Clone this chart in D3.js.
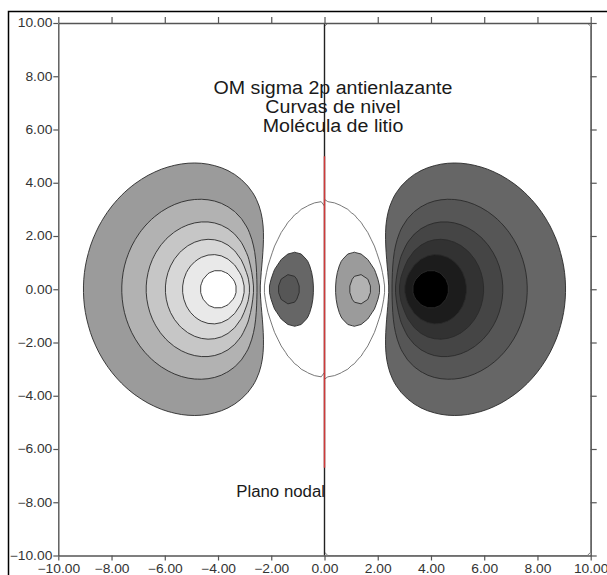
<!DOCTYPE html>
<html>
<head>
<meta charset="utf-8">
<script src="https://cdn.jsdelivr.net/npm/d3@7"></script>
<style>
  html, body { margin: 0; padding: 0; background: #fff; overflow: hidden; }
  text { font-family: "Liberation Sans", Arial, sans-serif; }
</style>
</head>
<body>
<svg id="chart" width="607" height="575"></svg>
<script>
// ---- data -------------------------------------------------------------
// axis ticks (bohr)
const xTicks = [-10, -8, -6, -4, -2, 0, 2, 4, 6, 8, 10];
const yTicks = [-10, -8, -6, -4, -2, 0, 2, 4, 6, 8, 10];
// Li2: nuclei on the molecular axis (bohr) and Slater exponent of Li 2p
const nucleiX = [-2.525, 2.525];
const slaterZeta = 0.65;
// contour levels of |psi| and the grey of each band (psi < 0 light, psi > 0 dark)
const levels = [0.1, 0.2, 0.3, 0.4, 0.5, 0.6];
const negativeFills = ["#9b9b9b", "#b2b2b2", "#c6c6c6", "#d7d7d7", "#e9e9e9", "#ffffff"];
const positiveFills = ["#666666", "#565656", "#454545", "#323232", "#1c1c1c", "#000000"];
const nodalLevel = [0];
// texts
const titleLines = ["OM sigma 2p antienlazante", "Curvas de nivel", "Molécula de litio"];
const nodalLabel = "Plano nodal";
// vertical extent of the highlighted nodal plane
const nodalSpan = [-6.7, 5.0];
const domain = [-10, 10];

// ---- layout -----------------------------------------------------------
const svg = d3.select("#chart");
const xs = d3.scaleLinear().domain(domain).range([58.3, 590.7]);
const ys = d3.scaleLinear().domain(domain).range([555.5, 23]);

// ---- sigma*2p = 2pz(A) + 2pz(B) on a grid ------------------------------
const n = 80;
const step = (domain[1] - domain[0]) / n;
const psi = (x, y) => nucleiX.reduce((s, xa) => {
  const dx = x - xa;
  return s + dx * Math.exp(-slaterZeta * Math.hypot(dx, y));
}, 0);
const values = new Float64Array(n * n);
for (let j = 0; j < n; j++) {
  const y = domain[1] - (j + 0.5) * step;
  for (let i = 0; i < n; i++) {
    const x = domain[0] + (i + 0.5) * step;
    values[j * n + i] = psi(x, y);
  }
}
const negValues = values.map(v => -v);

// grid coordinates -> screen
const gridPath = d3.geoPath(d3.geoTransform({
  point(cx, cy) {
    this.stream.point(xs(domain[0] + cx * step), ys(domain[1] - cy * step));
  }
}));

svg.append("defs").append("clipPath").attr("id", "plotClip")
  .append("rect")
  .attr("x", xs(domain[0])).attr("y", ys(domain[1]))
  .attr("width", xs(domain[1]) - xs(domain[0]))
  .attr("height", ys(domain[0]) - ys(domain[1]));

const plot = svg.append("g").attr("clip-path", "url(#plotClip)");
const contourGen = d3.contours().size([n, n]).thresholds(levels);

// negative lobes (light) and positive lobes (dark)
plot.append("g").selectAll("path")
  .data(contourGen(negValues))
  .join("path")
  .attr("d", gridPath)
  .attr("fill", (d, i) => negativeFills[i])
  .attr("stroke", "#2a2a2a")
  .attr("stroke-width", 0.9);

plot.append("g").selectAll("path")
  .data(contourGen(values))
  .join("path")
  .attr("d", gridPath)
  .attr("fill", (d, i) => positiveFills[i])
  .attr("stroke", "#2a2a2a")
  .attr("stroke-width", 0.9);

// psi = 0 contour
plot.append("g").selectAll("path")
  .data(d3.contours().size([n, n]).thresholds(nodalLevel)(values))
  .join("path")
  .attr("d", gridPath)
  .attr("fill", "none")
  .attr("stroke", "#555")
  .attr("stroke-width", 0.8);

// nodal plane x = 0
svg.append("line")
  .attr("x1", xs(0)).attr("x2", xs(0))
  .attr("y1", ys(domain[1])).attr("y2", ys(domain[0]))
  .attr("stroke", "#222").attr("stroke-width", 1.4);
svg.append("line")
  .attr("x1", xs(0)).attr("x2", xs(0))
  .attr("y1", ys(nodalSpan[1])).attr("y2", ys(nodalSpan[0]))
  .attr("stroke", "#d03a3a").attr("stroke-width", 1.5);

// ---- axes -------------------------------------------------------------
function stretch(sel, f) {
  sel.each(function () {
    const w = this.getComputedTextLength();
    d3.select(this).attr("textLength", w * f).attr("lengthAdjust", "spacingAndGlyphs");
  });
}
const fmt = d3.format(".2f");
function styleAxis(g) {
  g.selectAll(".domain").attr("stroke", "#555").attr("stroke-width", 1.4);
  g.selectAll(".tick line").attr("stroke", "#555").attr("stroke-width", 1.2);
  g.selectAll(".tick text")
    .attr("fill", "#333")
    .style("font-size", "12px")
    .style("font-family", "'Liberation Sans', Arial, sans-serif");
}

const axB = svg.append("g").attr("transform", `translate(0,${ys(domain[0])})`)
  .call(d3.axisBottom(xs).tickValues(xTicks).tickFormat(fmt).tickSize(5).tickSizeOuter(0).tickPadding(3.5));
const axT = svg.append("g").attr("transform", `translate(0,${ys(domain[1])})`)
  .call(d3.axisTop(xs).tickValues(xTicks).tickFormat("").tickSize(6).tickSizeOuter(0));
const axL = svg.append("g").attr("transform", `translate(${xs(domain[0])},0)`)
  .call(d3.axisLeft(ys).tickValues(yTicks).tickFormat(fmt).tickSize(5).tickSizeOuter(0).tickPadding(1));
const axR = svg.append("g").attr("transform", `translate(${xs(domain[1])},0)`)
  .call(d3.axisRight(ys).tickValues(yTicks).tickFormat("").tickSize(6).tickSizeOuter(0));
[axB, axT, axL, axR].forEach(styleAxis);
stretch(axB.selectAll(".tick text"), 1.15);
stretch(axL.selectAll(".tick text"), 1.15);

// ---- texts ------------------------------------------------------------
const title = svg.append("g").selectAll("text")
  .data(titleLines)
  .join("text")
  .attr("x", 333)
  .attr("y", (d, i) => 94 + i * 19)
  .attr("text-anchor", "middle")
  .attr("fill", "#1a1a1a")
  .style("font-size", "18px")
  .text(d => d);
stretch(title, 1.09);

const nodal = svg.append("text")
  .attr("x", xs(0) + 0.5)
  .attr("y", 497)
  .attr("text-anchor", "end")
  .attr("fill", "#1a1a1a")
  .style("font-size", "16px")
  .text(nodalLabel);
stretch(nodal, 1.05);

// outer frame
svg.append("rect")
  .attr("x", 8.5).attr("y", 11.5)
  .attr("width", 700).attr("height", 700)
  .attr("fill", "none").attr("stroke", "#000").attr("stroke-width", 1.5);
</script>
</body>
</html>
